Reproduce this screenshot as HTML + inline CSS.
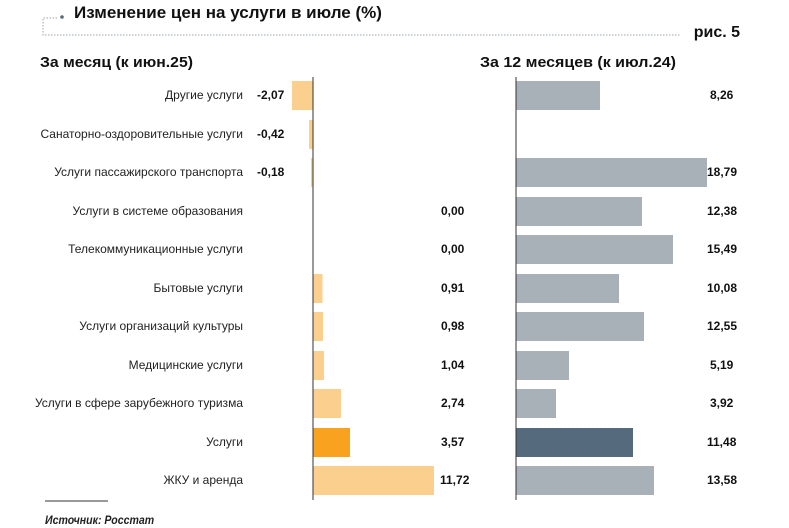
<!DOCTYPE html>
<html><head><meta charset="utf-8"><style>
html,body{margin:0;padding:0;background:#fff;}
svg{display:block;font-family:"Liberation Sans",sans-serif;}
</style></head><body>
<svg width="789" height="528" viewBox="0 0 789 528">
<polyline points="57,18 43,18 43,35 680,35" fill="none" stroke="#9aa3ab" stroke-width="1" stroke-dasharray="1.5,1.5"/>
<circle cx="62" cy="17" r="1.8" fill="#5a6b7c"/>
<text x="74" y="18" font-size="17" font-weight="bold" fill="#111">Изменение цен на услуги в июле (%)</text>
<text x="740" y="37" font-size="16" font-weight="bold" fill="#111" text-anchor="end">рис. 5</text>
<text x="40" y="67" font-size="15" font-weight="bold" fill="#111" textLength="153" lengthAdjust="spacingAndGlyphs">За месяц (к июн.25)</text>
<text x="480" y="67" font-size="15" font-weight="bold" fill="#111" textLength="196" lengthAdjust="spacingAndGlyphs">За 12 месяцев (к июл.24)</text>

<g>
<rect x="292" y="81" width="21" height="29" fill="#fbd08e"/>
<rect x="309" y="120" width="4" height="29" fill="#fbd08e"/>
<rect x="311" y="158" width="2" height="29" fill="#fbd08e"/>
<rect x="313" y="274" width="9.5" height="29" fill="#fbd08e"/>
<rect x="313" y="312" width="10" height="29" fill="#fbd08e"/>
<rect x="313" y="351" width="11" height="29" fill="#fbd08e"/>
<rect x="313" y="389" width="28" height="29" fill="#fbd08e"/>
<rect x="313" y="428" width="37" height="29" fill="#f9a21f"/>
<rect x="313" y="466" width="121" height="29" fill="#fbd08e"/>
</g>
<g>
<rect x="516" y="81" width="84" height="29" fill="#a9b1b8"/>
<rect x="516" y="158" width="191" height="29" fill="#a9b1b8"/>
<rect x="516" y="197" width="126" height="29" fill="#a9b1b8"/>
<rect x="516" y="235" width="157" height="29" fill="#a9b1b8"/>
<rect x="516" y="274" width="103" height="29" fill="#a9b1b8"/>
<rect x="516" y="312" width="128" height="29" fill="#a9b1b8"/>
<rect x="516" y="351" width="53" height="29" fill="#a9b1b8"/>
<rect x="516" y="389" width="40" height="29" fill="#a9b1b8"/>
<rect x="516" y="428" width="117" height="29" fill="#566a7e"/>
<rect x="516" y="466" width="138" height="29" fill="#a9b1b8"/>
</g>
<line x1="313" y1="77" x2="313" y2="500" stroke="#333" stroke-width="1"/>
<line x1="516" y1="77" x2="516" y2="500" stroke="#333" stroke-width="1"/>

<g font-size="12" fill="#222" text-anchor="end">
<text x="243" y="99" textLength="78" lengthAdjust="spacingAndGlyphs">Другие услуги</text>
<text x="243" y="138">Санаторно-оздоровительные услуги</text>
<text x="243" y="176">Услуги пассажирского транспорта</text>
<text x="243" y="215">Услуги в системе образования</text>
<text x="243" y="253">Телекоммуникационные услуги</text>
<text x="243" y="292">Бытовые услуги</text>
<text x="243" y="330">Услуги организаций культуры</text>
<text x="243" y="369">Медицинские услуги</text>
<text x="243" y="407">Услуги в сфере зарубежного туризма</text>
<text x="243" y="446">Услуги</text>
<text x="243" y="484">ЖКУ и аренда</text>
</g>
<g font-size="12" font-weight="bold" fill="#111">
<text x="257" y="99">-2,07</text><text x="257" y="138">-0,42</text><text x="257" y="176">-0,18</text>
<text x="441" y="215">0,00</text><text x="441" y="253">0,00</text><text x="441" y="292">0,91</text><text x="441" y="330">0,98</text>
<text x="441" y="369">1,04</text><text x="441" y="407">2,74</text><text x="441" y="446">3,57</text><text x="440" y="484">11,72</text>
<text x="710" y="99">8,26</text><text x="707" y="176">18,79</text><text x="707" y="215">12,38</text><text x="707" y="253">15,49</text>
<text x="707" y="292">10,08</text><text x="707" y="330">12,55</text><text x="710" y="369">5,19</text><text x="710" y="407">3,92</text>
<text x="707" y="446">11,48</text><text x="707" y="484">13,58</text>
</g>
<line x1="45" y1="501" x2="108" y2="501" stroke="#333" stroke-width="1"/>
<g transform="translate(45,524) scale(0.88,1)"><text font-size="12" font-weight="bold" font-style="italic" fill="#222">Источник: Росстат</text></g>
</svg>
</body></html>
